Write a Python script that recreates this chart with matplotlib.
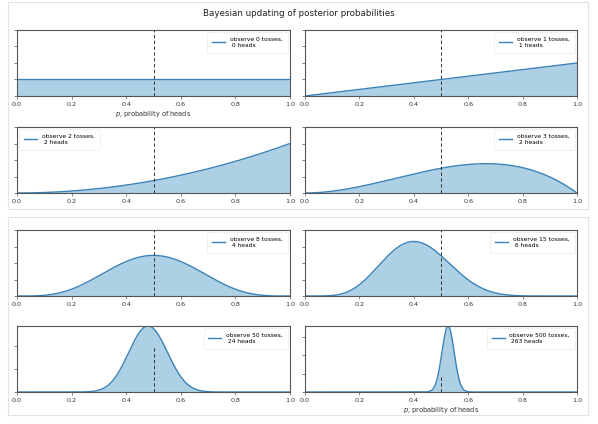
import math
import numpy as np
import matplotlib
matplotlib.use("Agg")
import matplotlib.pyplot as plt
from matplotlib.patches import Rectangle

# ---- data ----
tosses = [0, 1, 2, 3, 8, 15, 50, 500]
heads = [0, 1, 2, 2, 4, 6, 24, 263]
legend_locs = ["upper right", "upper right", "upper left", "upper right",
               "upper right", "upper right", "upper right", "upper right"]
xticks = [0.0, 0.2, 0.4, 0.6, 0.8, 1.0]
title = "Bayesian updating of posterior probabilities"
xlabel = "$p$, probability of heads"
xlabel_panels = [0, 7]

W, H = 598, 424
fig = plt.figure(figsize=(W / 100, H / 100), dpi=100)
fig.patch.set_facecolor("white")

LINE = "#3a82b8"
SPINE = "#555555"


def beta_pdf(x, a, b):
    logc = math.lgamma(a + b) - math.lgamma(a) - math.lgamma(b)
    lx = np.log(np.clip(x, 1e-300, 1.0))
    l1x = np.log(np.clip(1.0 - x, 1e-300, 1.0))
    return np.exp(logc + (a - 1) * lx + (b - 1) * l1x)


def px_rect(x0, y0, x1, y1):
    return [x0 / W, 1 - y1 / H, (x1 - x0) / W, (y1 - y0) / H]


# block frames
for (x0, y0, x1, y1) in [(8, 2, 588, 209), (8, 217, 588, 415)]:
    fig.add_artist(Rectangle((x0 / W, 1 - y1 / H), (x1 - x0) / W, (y1 - y0) / H,
                             transform=fig.transFigure, fill=False,
                             ec="#e2e2e2", lw=0.8))

cols = [(17, 290), (305, 577)]
rows = [(30, 96), (127, 193), (230, 296), (326, 392)]

x = np.linspace(0, 1, 400)
for i, (n, h) in enumerate(zip(tosses, heads)):
    r, c = divmod(i, 2)
    ax = fig.add_axes(px_rect(cols[c][0], rows[r][0], cols[c][1], rows[r][1]))
    y = beta_pdf(x, 1 + h, 1 + n - h)
    ax.plot(x, y, color=LINE, lw=1.0,
            label="observe %d tosses,\n %d heads" % (n, h))
    ax.fill_between(x, 0, y, color="#348ABD", alpha=0.4, lw=0)
    ax.vlines(0.5, 0, 4, color="#333333", linestyles=(0, (3.5, 2.5)), lw=0.7)
    ax.autoscale(tight=True)
    ax.set_xlim(0, 1)
    ax.set_xticks(xticks)
    ax.set_xticklabels(["%.1f" % t for t in xticks])
    ax.tick_params(labelsize=4.6, length=2, width=0.5, colors=SPINE,
                   labelcolor="#333333", pad=2)
    plt.setp(ax.get_yticklabels(), visible=False)
    for s in ax.spines.values():
        s.set_color(SPINE)
        s.set_linewidth(0.8)
    if i in xlabel_panels:
        ax.set_xlabel(xlabel, fontsize=4.8, color="#333333", labelpad=1.5)
    leg = ax.legend(loc=legend_locs[i], fontsize=4.3, handlelength=2.2,
                    borderpad=0.8, handletextpad=0.8, borderaxespad=0.4)
    leg.get_frame().set_alpha(0.4)
    leg.get_frame().set_linewidth(0.5)

fig.text(0.5, 1 - 14 / H, title, ha="center", va="center", fontsize=6.3,
         color="#222222")

fig.savefig("out.png", dpi=100)
